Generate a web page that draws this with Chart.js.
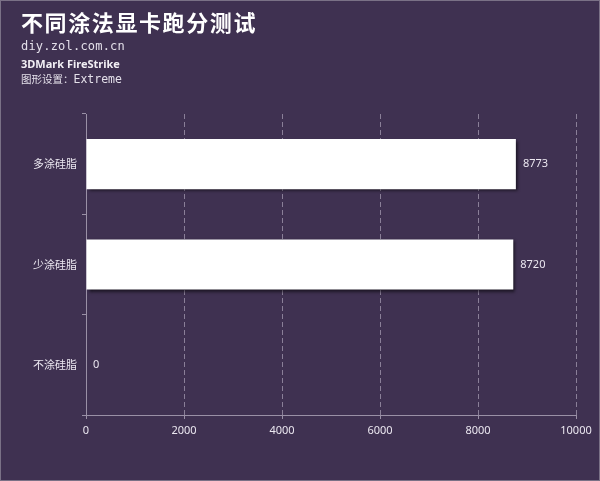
<!DOCTYPE html>
<html>
<head>
<meta charset="utf-8">
<script src="https://cdn.jsdelivr.net/npm/chart.js@4/dist/chart.umd.min.js"></script>
<style>
    html, body { margin: 0; padding: 0; background: #3f3151; }
    #wrap { position: relative; width: 600px; height: 481px; overflow: hidden; }
    #wrap canvas { position: absolute; left: 0; top: 0; }
    .hdr { position: absolute; left: 21px; color: #ffffff; white-space: nowrap; }
    #title { top: 5px; font: bold 22px "Noto Sans CJK SC", sans-serif; letter-spacing: 1.6px; }
    #site { top: 39px; font: 12px "DejaVu Sans Mono", monospace; color: #e4e0ea; letter-spacing: 0.2px; }
    #bench { top: 56px; font: bold 11px "Noto Sans", "Noto Sans CJK SC", sans-serif; color: #f2eff5; }
    #setting { top: 71px; font: 10.5px "Noto Sans CJK SC", sans-serif; color: #e4e0ea; }
    #setting span { font: 11.5px "DejaVu Sans Mono", monospace; }
    #frame { position: absolute; left: 0; top: 0; width: 600px; height: 481px; box-sizing: border-box;
             border: 1px solid #7a7186; pointer-events: none; }
</style>
</head>
<body>
<div id="wrap">
    <canvas id="scoreChart" width="600" height="481"></canvas>
    <div class="hdr" id="title">不同涂法显卡跑分测试</div>
    <div class="hdr" id="site">diy.zol.com.cn</div>
    <div class="hdr" id="bench">3DMark FireStrike</div>
    <div class="hdr" id="setting">图形设置：<span>Extreme</span></div>
    <div id="frame"></div>
</div>
<script>
// 3DMark FireStrike scores by thermal paste amount
const categories = ['多涂硅脂', '少涂硅脂', '不涂硅脂'];
const scores = [8773, 8720, 0];
const xTickValues = [0, 2000, 4000, 6000, 8000, 10000];

const AXIS_COLOR = '#9a90a6';
const GRID_COLOR = 'rgba(200, 192, 212, 0.55)';
const TEXT_COLOR = '#ebe7f0';

// white bars get a soft drop shadow like the original
const barShadow = {
    id: 'barShadow',
    beforeDatasetDraw(chart) {
        const ctx = chart.ctx;
        ctx.save();
        ctx.shadowColor = 'rgba(0, 0, 0, 0.6)';
        ctx.shadowOffsetX = 2;
        ctx.shadowOffsetY = 2;
        ctx.shadowBlur = 3;
    },
    afterDatasetDraw(chart) {
        chart.ctx.restore();
    }
};

// value text right of each bar
const valueLabels = {
    id: 'valueLabels',
    afterDatasetsDraw(chart) {
        const ctx = chart.ctx;
        const meta = chart.getDatasetMeta(0);
        ctx.save();
        ctx.fillStyle = TEXT_COLOR;
        ctx.font = '11px "Noto Sans", sans-serif';
        ctx.textAlign = 'left';
        ctx.textBaseline = 'middle';
        meta.data.forEach((bar, i) => {
            ctx.fillText(String(scores[i]), bar.x + 7, bar.y);
        });
        ctx.restore();
    }
};

const chart = new Chart(document.getElementById('scoreChart'), {
    type: 'bar',
    data: {
        labels: categories,
        datasets: [{
            data: scores,
            backgroundColor: '#ffffff',
            borderWidth: 0,
            barPercentage: 0.5,
            categoryPercentage: 1.0
        }]
    },
    options: {
        indexAxis: 'y',
        responsive: false,
        animation: false,
        layout: { padding: { top: 114, right: 24, bottom: 0, left: 0 } },
        plugins: {
            legend: { display: false },
            tooltip: { enabled: false }
        },
        scales: {
            x: {
                min: 0,
                max: 10000,
                afterBuildTicks: (scale) => {
                    scale.ticks = xTickValues.map(v => ({ value: v }));
                },
                afterFit: (scale) => { scale.height = 66; },
                grid: {
                    color: (c) => (c.tick && c.tick.value === 0 ? 'rgba(0,0,0,0)' : GRID_COLOR),
                    tickColor: AXIS_COLOR,
                    tickLength: 4,
                    lineWidth: 1
                },
                border: { display: true, color: AXIS_COLOR, dash: [5, 3] },
                ticks: {
                    color: TEXT_COLOR,
                    padding: 5,
                    font: { family: '"Noto Sans", sans-serif', size: 11 },
                    callback: (value) => String(value)
                }
            },
            y: {
                afterFit: (scale) => { scale.width = 86; },
                grid: {
                    offset: true,
                    drawOnChartArea: false,
                    color: AXIS_COLOR,
                    tickLength: 4
                },
                border: { display: true, color: AXIS_COLOR },
                ticks: {
                    color: TEXT_COLOR,
                    padding: 5,
                    font: { family: '"Noto Sans CJK SC", sans-serif', size: 11 }
                }
            }
        }
    },
    plugins: [barShadow, valueLabels]
});
</script>
</body>
</html>
